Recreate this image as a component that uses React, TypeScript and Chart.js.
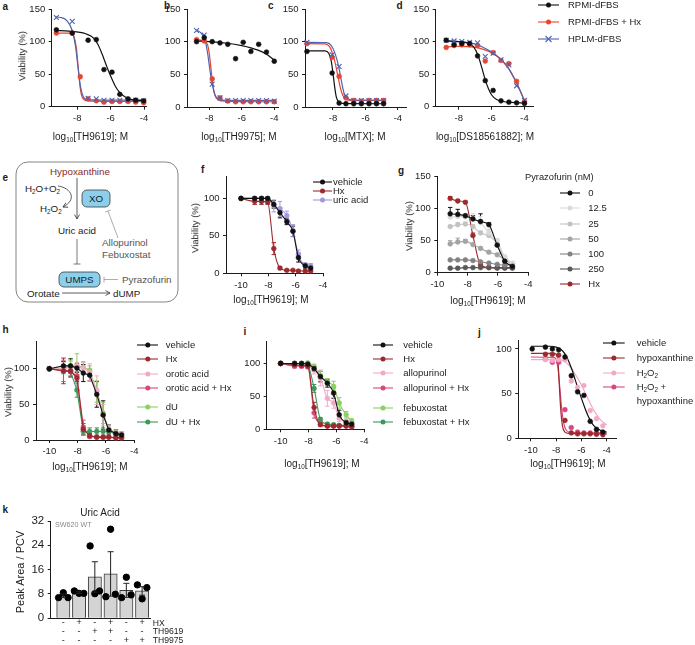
import React, { useEffect, useRef } from 'react';
import { Chart, registerables } from 'chart.js';

Chart.register(...registerables);

const FONT = '"Liberation Sans", Arial, Helvetica, sans-serif';
const INK = '#1c1c1c';

const BLACK = '#111111';
const RED = '#e8452f';
const BLUE = '#4f63b0';
const DARKRED = '#9c2a2c';
const LAVENDER = '#a398de';
const LPINK = '#f2a9c8';
const PINK = '#d9467f';
const LGREEN = '#8ccf62';
const GREEN = '#3c9a58';
const G_COLORS = ['#111111', '#dadada', '#c2c2c2', '#a3a3a3', '#838383', '#585858', '#9c2a2c'];

// ---------------- panel a ----------------
const A_X = [-9.25, -8.3, -7.82, -7.35, -6.86, -6.4, -5.92, -5.45, -4.96, -4.5, -4.02];
const A_RPMI = [118, 113, null, 102, 103, 57, 53, 19, 12, 10, 9];
const A_RPMI_HX = [113, 113, 46, 12, 9, 7, 8, 8, 8, 7, 6];
const A_HPLM = [137, 131, null, 13, 12, 10, 10, 10, 10, 10, 9];
const A_FIT_RPMI_X = [-9.3, -8.5, -7.5, -7, -6.75, -6.5, -6.25, -6, -5.75, -5.5, -5, -4.5, -4];
const A_FIT_RPMI_Y = [117, 116, 112, 105, 95, 80, 63, 47, 33, 23, 13, 10, 9.5];
const A_FIT_HX_X = [-9.3, -8.4, -8.2, -8.05, -7.95, -7.85, -7.75, -7.6, -7.4, -4];
const A_FIT_HX_Y = [113, 113, 108, 90, 62, 35, 18, 11, 9, 8];
const A_FIT_HPLM_X = [-9.3, -9, -8.7, -8.45, -8.25, -8.1, -7.95, -7.8, -7.65, -7.45, -4];
const A_FIT_HPLM_Y = [138, 137, 134, 126, 112, 92, 60, 30, 16, 11, 10];

// ---------------- panel b ----------------
const B_X = [-8.78, -8.31, -7.82, -7.34, -6.86, -6.38, -5.91, -5.44, -4.96, -4.48, -4.0];
const B_RPMI = [100, 106, 100, 98, 96, 74, 99, 85, 96, 84, 70];
const B_RPMI_HX = [103, 101, 43, 14, 9, 8, 8, 8, 8, 8, 8];
const B_HPLM = [117, 110, 35, 14, 10, 10, 10, 10, 10, 10, 9];
const B_FIT_RPMI_X = [-8.8, -8, -7, -6, -5, -4.5, -4];
const B_FIT_RPMI_Y = [101, 100, 98, 94, 87, 81, 72];
const B_FIT_HX_X = [-8.8, -8.3, -8.1, -8.0, -7.9, -7.8, -7.7, -7.55, -7.3, -4];
const B_FIT_HX_Y = [103, 101, 95, 82, 60, 38, 22, 13, 9.5, 8];
const B_FIT_HPLM_X = [-8.8, -8.5, -8.25, -8.1, -7.95, -7.8, -7.65, -7.5, -7.3, -4];
const B_FIT_HPLM_Y = [118, 113, 102, 82, 55, 33, 19, 13, 10.5, 10];

// ---------------- panel c ----------------
const C_X = [-9.6, -8.05, -7.62, -7.2, -6.72, -6.25, -5.78, -5.32, -4.88];
const C_RPMI = [85, 52, 6, 5, 5, 5, 5, 5, 5];
const C_RPMI_HX = [97, 76, 47, 14, 10, 9, 10, 10, 10];
const C_HPLM = [99, 80, 62, 17, 10, 10, 10, 10, 10];
const C_FIT_RPMI_X = [-9.6, -8.5, -8.25, -8.1, -8.0, -7.9, -7.8, -7.65, -7.4, -4.85];
const C_FIT_RPMI_Y = [86, 86, 82, 70, 52, 32, 16, 8, 5.5, 5];
const C_FIT_HX_X = [-9.6, -8.5, -8.2, -8.0, -7.85, -7.7, -7.55, -7.4, -7.2, -6.9, -4.85];
const C_FIT_HX_Y = [97, 96.5, 92, 80, 66, 48, 30, 18, 12, 10, 10];
const C_FIT_HPLM_X = [-9.6, -8.4, -8.1, -7.9, -7.75, -7.6, -7.45, -7.3, -7.1, -6.8, -4.85];
const C_FIT_HPLM_Y = [99, 98.5, 94, 84, 72, 56, 36, 20, 13, 10.5, 10];

// ---------------- panel d ----------------
const D_X = [-8.77, -8.29, -7.82, -7.34, -6.86, -6.39, -5.91, -5.43, -4.95, -4.48, -4.0];
const D_RPMI = [102, 95, 97, 97, 78, 40, 25, 9, 7, 6, 5];
const D_RPMI_HX = [91, 94, 95, 95, 94, 70, 83, 71, 66, 39, 8];
const D_HPLM = [102, 101, 100, 99, 98, 77, 82, 72, 64, 32, 10];
const D_FIT_RPMI_X = [-8.77, -8, -7.5, -7.1, -6.85, -6.6, -6.4, -6.2, -6, -5.7, -5.3, -4.8, -4];
const D_FIT_RPMI_Y = [101, 100, 98, 92, 80, 60, 42, 28, 18, 11, 8, 6.5, 5.5];
const D_FIT_HX_X = [-8.77, -8, -7, -6.5, -6, -5.5, -5, -4.6, -4.3, -4.1, -4];
const D_FIT_HX_Y = [92, 92.5, 91, 88, 83, 74, 60, 43, 27, 15, 9];
const D_FIT_HPLM_X = [-8.77, -8, -7, -6.5, -6, -5.5, -5, -4.6, -4.3, -4.1, -4];
const D_FIT_HPLM_Y = [101, 100, 96, 91, 84, 74, 60, 42, 26, 15, 10];

// ---------------- panels f, h, i (shared doses) ----------------
const FHI_X = [-10, -9, -8.5, -8.05, -7.6, -7.15, -6.65, -6.2, -5.8, -5.3, -4.9];

const F_VEH = [100, 100, 100, 100, 92, 81, 69, 56, 21, 10, 7];
const F_VEH_ERR = [0, 2, 2, 2, 5, 7, 4, 7, 6, 3, 3];
const F_HX = [100, 96, 96, 95, 33, 7, 4, 4, 3, 3, 3];
const F_HX_ERR = [0, 4, 4, 3, 8, 2, 1, 1, 1, 1, 1];
const F_URIC = [100, 100, 100, 100, 90, 86, 77, 57, 25, 11, 10];
const F_URIC_ERR = [0, 2, 2, 2, 8, 10, 6, 8, 6, 3, 3];

const H_VEH = [100, 104, 104, 101, 94, 91, 64, 35, 14, 9, 7];
const H_VEH_ERR = [0, 6, 10, 6, 12, 8, 18, 20, 7, 5, 4];
const H_HX = [100, 97, 97, 87, 15, 6, 4, 4, 4, 3, 3];
const H_HX_ERR = [0, 18, 8, 5, 8, 3, 1, 1, 1, 1, 1];
const H_ORO = [100, 100, 102, 104, 101, 95, 70, 35, 15, 10, 8];
const H_ORO_ERR = [0, 5, 8, 5, 8, 12, 20, 15, 5, 3, 2];
const H_ORO_HX = [100, 97, 96, 90, 18, 5, 4, 4, 4, 3, 3];
const H_ORO_HX_ERR = [0, 15, 8, 6, 10, 2, 1, 1, 1, 1, 1];
const H_DU = [100, 100, 104, 104, 102, 98, 68, 38, 15, 10, 8];
const H_DU_ERR = [0, 5, 8, 17, 8, 6, 15, 15, 5, 3, 2];
const H_DU_HX = [100, 98, 96, 70, 12, 12, 12, 12, 12, 8, 5];
const H_DU_HX_ERR = [0, 5, 6, 10, 5, 5, 5, 5, 3, 2, 2];

const I_VEH = [100, 100, 100, 99, 92, 80, 70, 55, 22, 10, 8];
const I_VEH_ERR = [0, 2, 2, 2, 4, 8, 6, 8, 7, 4, 3];
const I_HX = [100, 98, 97, 96, 33, 7, 5, 5, 5, 5, 4];
const I_HX_ERR = [0, 3, 3, 3, 8, 2, 1, 1, 1, 1, 1];
const I_ALLO = [100, 100, 100, 98, 90, 78, 47, 40, 17, 12, 8];
const I_ALLO_ERR = [0, 2, 2, 3, 6, 12, 12, 8, 5, 3, 2];
const I_ALLO_HX = [100, 96, 96, 95, 25, 8, 5, 5, 5, 5, 4];
const I_ALLO_HX_ERR = [0, 3, 3, 3, 8, 2, 1, 1, 1, 1, 1];
const I_FEB = [100, 100, 100, 101, 95, 82, 72, 65, 40, 22, 12];
const I_FEB_ERR = [0, 2, 2, 2, 4, 6, 5, 8, 8, 5, 4];
const I_FEB_HX = [100, 97, 97, 96, 62, 15, 8, 7, 6, 6, 5];
const I_FEB_HX_ERR = [0, 3, 3, 3, 6, 3, 2, 1, 1, 1, 1];

// ---------------- panel g ----------------
const G_X = [-9.15, -8.65, -8.15, -7.65, -7.15, -6.6, -6.05, -5.55, -5.05];
const G_LABELS = ['0', '12.5', '25', '50', '100', '250', 'Hx'];
const G_P0 = [92, 91, 89, 84, 80, 75, 43, 18, 10];
const G_P0_ERR = [10, 8, 0, 5, 12, 3, 3, 2, 3];
const G_P12 = [87, 88, 87, 84, 78, 62, 50, 25, 15];
const G_P12_ERR = [0, 5, 5, 8, 10, 3, 3, 2, 2];
const G_P25 = [72, 75, 76, 72, 62, 58, 45, 22, 14];
const G_P25_ERR = [2, 3, 3, 3, 3, 10, 5, 2, 2];
const G_P50 = [45, 48, 49, 44, 38, 32, 28, 20, 14];
const G_P50_ERR = [5, 6, 3, 2, 2, 2, 2, 2, 2];
const G_P100 = [20, 20, 20, 19, 17, 15, 13, 12, 12];
const G_P250 = [7, 7, 8, 8, 8, 8, 7, 7, 7];
const G_HX = [116, 112, 110, 58, 12, 8, 8, 8, 8];
const G_HX_ERR = [3, 2, 2, 4, 2, 1, 1, 1, 1];

// ---------------- panel j ----------------
const J_X = [-9.9, -8.85, -8.3, -7.8, -7.3, -6.8, -6.3, -5.8, -5.3, -4.8, -4.3];
const J_VEH = [100, 102, 100, 99, 91, 70, 52, 48, 19, 10, 7];
const J_HX = [null, 94, 94, 93, 20, 6, 5, 5, 5, 4.5, 4];
const J_H2O2 = [null, 88, 87, 88, 88, 64, 57, 59, 31, 22, 14];
const J_H2O2_HX = [null, 89, 85, 85, 32, 12, 7, 6, 6, 6, 6];
const J_FIT_VEH_X = [-10, -8.5, -8, -7.5, -7.2, -7, -6.75, -6.5, -6.25, -6, -5.75, -5.5, -5.25, -5, -4.5, -4];
const J_FIT_VEH_Y = [103, 103, 102, 98, 92, 86, 77, 66, 55, 45, 35, 26, 19, 14, 9, 7];
const J_FIT_HX_X = [-10, -8.2, -8.0, -7.85, -7.75, -7.65, -7.5, -7.3, -7.0, -4];
const J_FIT_HX_Y = [95, 95, 94, 85, 60, 35, 14, 7, 5.5, 5];
const J_FIT_H2O2_X = [-10, -8, -7.5, -7, -6.5, -6, -5.5, -5, -4.5, -4];
const J_FIT_H2O2_Y = [88, 88, 87, 82, 72, 60, 45, 31, 21, 15];
const J_FIT_H2O2_HX_X = [-10, -8.2, -8.0, -7.85, -7.7, -7.55, -7.4, -7.2, -6.8, -4];
const J_FIT_H2O2_HX_Y = [91, 90.5, 88, 78, 55, 32, 17, 9, 6.5, 6];

// ---------------- panel k ----------------
const K_MEANS = [7.4, 8.4, 13.6, 14.6, 9.2, 9.0];
const K_SEM = [0.6, 0.3, 5.0, 7.3, 2.3, 1.4];
const K_REP1 = [6.8, 9.0, 23.8, 7.1, 6.8, 11.0];
const K_REP2 = [8.4, 8.2, 8.1, 29.3, 13.5, 6.4];
const K_REP3 = [6.8, 8.2, 9.0, 7.9, 7.7, 10.1];
const K_JITTER = [-0.3, 0, 0.3];
const K_HX = ['-', '+', '-', '+', '-', '+'];
const K_TH9619 = ['-', '-', '+', '+', '-', '-'];
const K_TH9975 = ['-', '-', '-', '-', '+', '+'];
const K_ROWS = ['HX', 'TH9619', 'TH9975'];

// ======================================================
const YW = 30;
const XH = 22;

const errorBars: any = {
  id: 'errorBars',
  beforeDatasetsDraw(chart: any, _a: any, opts: any) {
    if (!opts.after) drawErrors(chart, opts);
  },
  afterDatasetsDraw(chart: any, _a: any, opts: any) {
    if (opts.after) drawErrors(chart, opts);
  },
};

function drawErrors(chart: any, opts: any) {
  const ctx = chart.ctx;
  const ys = chart.scales.y;
  const cap = opts.cap ?? 2.2;
  chart.data.datasets.forEach((ds: any, i: number) => {
    if (!ds.errors) return;
    const meta = chart.getDatasetMeta(i);
    ctx.save();
    ctx.strokeStyle = ds.errColor ?? ds.borderColor;
    ctx.lineWidth = 1;
    meta.data.forEach((el: any, j: number) => {
      const e = ds.errors[j];
      const d = ds.data[j];
      if (!e || !d || d.y == null) return;
      const yTop = ys.getPixelForValue(d.y + e);
      const yBot = opts.mode === 'both' ? ys.getPixelForValue(d.y - e) : el.y;
      ctx.beginPath();
      ctx.moveTo(el.x, yTop);
      ctx.lineTo(el.x, yBot);
      ctx.moveTo(el.x - cap, yTop);
      ctx.lineTo(el.x + cap, yTop);
      if (opts.mode === 'both') {
        ctx.moveTo(el.x - cap, yBot);
        ctx.lineTo(el.x + cap, yBot);
      }
      ctx.stroke();
    });
    ctx.restore();
  });
}

type S = {
  xs: number[];
  ys: (number | null)[];
  color: string;
  cross?: boolean;
  line?: 'none' | 'straight' | 'smooth';
  errs?: number[];
};

type PanelDef = {
  area: number[];
  xMin: number;
  xMax: number;
  xTicks: number[];
  yMax: number;
  yTicks: number[];
  series: S[];
  fits?: S[];
  err?: 'up' | 'both';
};

const toData = (xs: number[], ys: (number | null)[]) => xs.map((x, i) => ({ x, y: ys[i] }));

function seriesDS(s: S) {
  const line = s.line ?? 'none';
  return {
    data: toData(s.xs, s.ys),
    showLine: line !== 'none',
    borderColor: s.color,
    backgroundColor: s.color,
    borderWidth: 1.1,
    tension: 0,
    cubicInterpolationMode: line === 'smooth' ? 'monotone' : 'default',
    pointStyle: s.cross ? 'crossRot' : 'circle',
    pointRadius: s.cross ? 3.4 : 2.4,
    pointBorderWidth: s.cross ? 1.1 : 0.6,
    pointBorderColor: s.color,
    pointBackgroundColor: s.color,
    errors: s.errs,
    clip: false,
  };
}

function fitDS(s: S) {
  return {
    data: toData(s.xs, s.ys),
    showLine: true,
    borderColor: s.color,
    borderWidth: 1.2,
    pointRadius: 0,
    cubicInterpolationMode: 'monotone',
    clip: false,
  };
}

function scale(axis: 'x' | 'y', min: number, max: number, ticks: number[], size = 9.5) {
  return {
    type: 'linear',
    min,
    max,
    afterBuildTicks: (s: any) => {
      s.ticks = ticks.map((v) => ({ value: v }));
    },
    afterFit: (s: any) => {
      if (axis === 'x') {
        s.height = XH;
        s.paddingLeft = 0;
        s.paddingRight = 0;
      } else {
        s.width = YW;
        s.paddingTop = 0;
        s.paddingBottom = 0;
      }
    },
    grid: { display: true, drawOnChartArea: false, drawTicks: true, tickLength: 3, color: INK, lineWidth: 1 },
    border: { display: true, color: INK, width: 1 },
    ticks: {
      color: INK,
      font: { family: FONT, size },
      padding: axis === 'x' ? 3 : 3.5,
      maxRotation: 0,
      minRotation: 0,
      autoSkip: false,
      callback: (v: any) => String(v),
    },
  };
}

function rectFor(area: number[], xh = XH) {
  const [x0, y0, x1, y1] = area;
  const left = Math.floor(x0 - YW - 4);
  const top = Math.max(0, Math.floor(y0 - 8));
  const width = Math.ceil(x1 + 10) - left;
  const height = Math.ceil(y1 + xh + 3) - top;
  const padding = { left: x0 - left - YW, right: left + width - x1, top: y0 - top, bottom: top + height - y1 - xh };
  return { left, top, width, height, padding };
}

function DoseChart({ p }: { p: PanelDef }) {
  const ref = useRef<HTMLCanvasElement | null>(null);
  const r = rectFor(p.area);
  useEffect(() => {
    const datasets = [...p.series.map(seriesDS), ...(p.fits ?? []).map(fitDS)];
    const chart = new Chart(ref.current as HTMLCanvasElement, {
      type: 'line',
      data: { datasets } as any,
      options: {
        responsive: false,
        animation: false,
        devicePixelRatio: 1,
        events: [],
        layout: { padding: r.padding },
        plugins: {
          legend: { display: false },
          tooltip: { enabled: false },
          errorBars: { mode: p.err ?? 'both', cap: 2.2 },
        },
        scales: {
          x: scale('x', p.xMin, p.xMax, p.xTicks),
          y: scale('y', 0, p.yMax, p.yTicks),
        },
      } as any,
      plugins: [errorBars],
    });
    return () => chart.destroy();
  }, []);
  return (
    <canvas
      ref={ref}
      width={r.width}
      height={r.height}
      style={{ position: 'absolute', left: r.left, top: r.top, width: r.width, height: r.height }}
    />
  );
}

const K_AREA = [50.7, 521, 150, 618.3];
const K_XH = 28;

function UricChart() {
  const ref = useRef<HTMLCanvasElement | null>(null);
  const r = rectFor(K_AREA, K_XH);
  useEffect(() => {
    const reps = [K_REP1, K_REP2, K_REP3];
    const dots = reps.flatMap((rep, k) => rep.map((v, i) => ({ x: i + K_JITTER[k], y: v })));
    const yS: any = scale('y', 0, 32, [0, 8, 16, 24, 32], 11.5);
    const xS: any = {
      type: 'linear',
      min: -0.8,
      max: 5.5,
      offset: false,
      afterBuildTicks: (s: any) => {
        s.ticks = K_MEANS.map((_, i) => ({ value: i }));
      },
      afterFit: (s: any) => {
        s.height = K_XH;
        s.paddingLeft = 0;
        s.paddingRight = 0;
      },
      grid: { display: false, drawTicks: false, offset: false },
      border: { display: true, color: INK, width: 1 },
      ticks: {
        color: INK,
        font: { family: FONT, size: 9, lineHeight: 0.97 },
        padding: 0,
        maxRotation: 0,
        autoSkip: false,
        callback: (v: any) => [K_HX[v], K_TH9619[v], K_TH9975[v]],
      },
    };
    const chart = new Chart(ref.current as HTMLCanvasElement, {
      type: 'bar',
      data: {
        datasets: [
          {
            type: 'scatter',
            data: dots,
            pointRadius: 3.2,
            pointBackgroundColor: '#000',
            pointBorderColor: '#000',
            order: 1,
            clip: false,
          },
          {
            type: 'bar',
            data: K_MEANS.map((m, i) => ({ x: i, y: m })),
            backgroundColor: '#d4d4d4',
            borderColor: '#3a3a3a',
            borderWidth: 1,
            barThickness: 13.3,
            errors: K_SEM,
            errColor: '#222',
            order: 2,
          },
        ],
      } as any,
      options: {
        responsive: false,
        animation: false,
        devicePixelRatio: 1,
        events: [],
        layout: { padding: r.padding },
        plugins: {
          legend: { display: false },
          tooltip: { enabled: false },
          errorBars: { mode: 'both', cap: 3, after: true },
        },
        scales: { x: xS, y: yS },
      } as any,
      plugins: [errorBars],
    });
    return () => chart.destroy();
  }, []);
  return (
    <canvas
      ref={ref}
      width={r.width}
      height={r.height}
      style={{ position: 'absolute', left: r.left, top: r.top, width: r.width, height: r.height }}
    />
  );
}

// ---------------- panel definitions ----------------
const PANEL_A: PanelDef = {
  area: [51.7, 9, 146.7, 106.7], xMin: -9.53, xMax: -3.84, xTicks: [-8, -6, -4], yMax: 150, yTicks: [0, 50, 100, 150],
  series: [
    { xs: A_X, ys: A_RPMI, color: BLACK },
    { xs: A_X, ys: A_HPLM, color: BLUE, cross: true },
    { xs: A_X, ys: A_RPMI_HX, color: RED },
  ],
  fits: [
    { xs: A_FIT_RPMI_X, ys: A_FIT_RPMI_Y, color: BLACK },
    { xs: A_FIT_HPLM_X, ys: A_FIT_HPLM_Y, color: BLUE },
    { xs: A_FIT_HX_X, ys: A_FIT_HX_Y, color: RED },
  ],
};
const PANEL_B: PanelDef = {
  area: [187, 9, 278, 107], xMin: -9.37, xMax: -3.77, xTicks: [-8, -6, -4], yMax: 150, yTicks: [0, 50, 100, 150],
  series: [
    { xs: B_X, ys: B_RPMI, color: BLACK },
    { xs: B_X, ys: B_HPLM, color: BLUE, cross: true },
    { xs: B_X, ys: B_RPMI_HX, color: RED },
  ],
  fits: [
    { xs: B_FIT_RPMI_X, ys: B_FIT_RPMI_Y, color: BLACK },
    { xs: B_FIT_HPLM_X, ys: B_FIT_HPLM_Y, color: BLUE },
    { xs: B_FIT_HX_X, ys: B_FIT_HX_Y, color: RED },
  ],
};
const PANEL_C: PanelDef = {
  area: [305, 9, 406.7, 107], xMin: -9.72, xMax: -3.46, xTicks: [-8, -6, -4], yMax: 150, yTicks: [0, 50, 100, 150],
  series: [
    { xs: C_X, ys: C_RPMI, color: BLACK },
    { xs: C_X, ys: C_HPLM, color: BLUE, cross: true },
    { xs: C_X, ys: C_RPMI_HX, color: RED },
  ],
  fits: [
    { xs: C_FIT_RPMI_X, ys: C_FIT_RPMI_Y, color: BLACK },
    { xs: C_FIT_HPLM_X, ys: C_FIT_HPLM_Y, color: BLUE },
    { xs: C_FIT_HX_X, ys: C_FIT_HX_Y, color: RED },
  ],
};
const PANEL_D: PanelDef = {
  area: [435.7, 9, 533, 106.7], xMin: -9.41, xMax: -3.48, xTicks: [-8, -6, -4], yMax: 150, yTicks: [0, 50, 100, 150],
  series: [
    { xs: D_X, ys: D_RPMI, color: BLACK },
    { xs: D_X, ys: D_HPLM, color: BLUE, cross: true },
    { xs: D_X, ys: D_RPMI_HX, color: RED },
  ],
  fits: [
    { xs: D_FIT_RPMI_X, ys: D_FIT_RPMI_Y, color: BLACK },
    { xs: D_FIT_HPLM_X, ys: D_FIT_HPLM_Y, color: BLUE },
    { xs: D_FIT_HX_X, ys: D_FIT_HX_Y, color: RED },
  ],
};
const PANEL_F: PanelDef = {
  area: [226, 176.7, 323, 273.3], xMin: -11.1, xMax: -4, xTicks: [-10, -8, -6, -4], yMax: 129, yTicks: [0, 50, 100],
  series: [
    { xs: FHI_X, ys: F_VEH, color: BLACK, line: 'smooth', errs: F_VEH_ERR },
    { xs: FHI_X, ys: F_HX, color: DARKRED, line: 'smooth', errs: F_HX_ERR },
    { xs: FHI_X, ys: F_URIC, color: LAVENDER, line: 'smooth', errs: F_URIC_ERR },
  ],
};
const G_SERIES = [G_P0, G_P12, G_P25, G_P50, G_P100, G_P250, G_HX];
const G_ERRS = [G_P0_ERR, G_P12_ERR, G_P25_ERR, G_P50_ERR, undefined, undefined, G_HX_ERR];
const PANEL_G: PanelDef = {
  area: [437.3, 176.7, 528.3, 272.7], xMin: -10, xMax: -4, xTicks: [-10, -8, -6, -4], yMax: 150, yTicks: [0, 50, 100, 150],
  err: 'up',
  series: G_SERIES.map((ys, i) => ({ xs: G_X, ys, color: G_COLORS[i], line: 'smooth' as const, errs: G_ERRS[i] })),
};
const PANEL_H: PanelDef = {
  area: [36, 341.7, 134.3, 440], xMin: -10.94, xMax: -4, xTicks: [-10, -8, -6, -4], yMax: 138, yTicks: [0, 50, 100],
  series: [
    { xs: FHI_X, ys: H_VEH, color: BLACK, line: 'straight', errs: H_VEH_ERR },
    { xs: FHI_X, ys: H_HX, color: DARKRED, line: 'straight', errs: H_HX_ERR },
    { xs: FHI_X, ys: H_ORO, color: LPINK, line: 'straight', errs: H_ORO_ERR },
    { xs: FHI_X, ys: H_ORO_HX, color: PINK, line: 'straight', errs: H_ORO_HX_ERR },
    { xs: FHI_X, ys: H_DU, color: LGREEN, line: 'straight', errs: H_DU_ERR },
    { xs: FHI_X, ys: H_DU_HX, color: GREEN, line: 'straight', errs: H_DU_HX_ERR },
  ],
};
const PANEL_I: PanelDef = {
  area: [266.7, 341.7, 364.3, 429.3], xMin: -11, xMax: -4, xTicks: [-10, -8, -6, -4], yMax: 133, yTicks: [0, 50, 100],
  series: [
    { xs: FHI_X, ys: I_VEH, color: BLACK, line: 'smooth', errs: I_VEH_ERR },
    { xs: FHI_X, ys: I_HX, color: DARKRED, line: 'smooth', errs: I_HX_ERR },
    { xs: FHI_X, ys: I_ALLO, color: LPINK, line: 'smooth', errs: I_ALLO_ERR },
    { xs: FHI_X, ys: I_ALLO_HX, color: PINK, line: 'smooth', errs: I_ALLO_HX_ERR },
    { xs: FHI_X, ys: I_FEB, color: LGREEN, line: 'smooth', errs: I_FEB_ERR },
    { xs: FHI_X, ys: I_FEB_HX, color: GREEN, line: 'smooth', errs: I_FEB_HX_ERR },
  ],
};
const PANEL_J: PanelDef = {
  area: [518.3, 340, 616.7, 438.3], xMin: -11, xMax: -3.2, xTicks: [-10, -8, -6, -4], yMax: 110, yTicks: [0, 50, 100],
  series: [
    { xs: J_X, ys: J_VEH, color: BLACK },
    { xs: J_X, ys: J_HX, color: DARKRED },
    { xs: J_X, ys: J_H2O2, color: LPINK },
    { xs: J_X, ys: J_H2O2_HX, color: PINK },
  ],
  fits: [
    { xs: J_FIT_VEH_X, ys: J_FIT_VEH_Y, color: BLACK },
    { xs: J_FIT_HX_X, ys: J_FIT_HX_Y, color: DARKRED },
    { xs: J_FIT_H2O2_X, ys: J_FIT_H2O2_Y, color: LPINK },
    { xs: J_FIT_H2O2_HX_X, ys: J_FIT_H2O2_HX_Y, color: PINK },
  ],
};

// ---------------- text helpers ----------------
function T(props: any) {
  const { x, y, s = 9.5, a = 'l', c = INK, b = false, rot = false, children } = props;
  const tx = a === 'c' ? '-50%' : a === 'r' ? '-100%' : '0';
  const style: any = {
    position: 'absolute',
    left: x,
    top: y,
    fontSize: s,
    color: c,
    fontWeight: b ? 700 : 400,
    whiteSpace: 'nowrap',
    lineHeight: 1,
    fontFamily: FONT,
    transform: rot ? 'translate(-50%,-50%) rotate(-90deg)' : `translate(${tx},-50%)`,
  };
  return <div style={style}>{children}</div>;
}

const Sub = ({ children, s = 6.3 }: any) => (
  <span style={{ fontSize: s, verticalAlign: '-2px', lineHeight: 0 }}>{children}</span>
);

function XTitle({ x, y, drug }: any) {
  return (
    <T x={x} y={y} s={10} a="c">
      log<Sub>10</Sub>[{drug}]; M
    </T>
  );
}

function LegendRow({ x0, len, y, color, cross, tx, children }: any) {
  const m = len / 2;
  return (
    <>
      <svg style={{ position: 'absolute', left: x0, top: y - 5 }} width={len} height={10}>
        <line x1={0} y1={5} x2={len} y2={5} stroke={color} strokeWidth={1.1} />
        {cross ? (
          <path d={`M${m - 3} 2 L${m + 3} 8 M${m - 3} 8 L${m + 3} 2`} stroke={color} strokeWidth={1.1} fill="none" />
        ) : (
          <circle cx={m} cy={5} r={2.5} fill={color} />
        )}
      </svg>
      <T x={tx} y={y}>
        {children}
      </T>
    </>
  );
}

function PathwayE() {
  const st = { fontFamily: FONT, fontSize: 9.8 } as any;
  return (
    <svg style={{ position: 'absolute', left: 0, top: 155 }} width={190} height={155} viewBox="0 155 190 155">
      <defs>
        <marker id="ah" markerWidth="6" markerHeight="6" refX="5" refY="3" orient="auto" markerUnits="userSpaceOnUse">
          <path d="M0.5,0.5 L5,3 L0.5,5.5" fill="none" stroke="#333" strokeWidth="0.8" />
        </marker>
      </defs>
      <rect x={16} y={162} width={162} height={140} rx={12} fill="none" stroke="#666" strokeWidth={0.8} />
      <text x={80} y={174.5} textAnchor="middle" fill="#8b2a2a" style={st}>Hypoxanthine</text>
      <line x1={77} y1={178} x2={77} y2={219} stroke="#333" strokeWidth={0.8} markerEnd="url(#ah)" />
      <text x={25} y={191.5} fill={INK} style={st}>
        H<tspan fontSize={6.3} dy={2}>2</tspan><tspan dy={-2}>O+O</tspan><tspan fontSize={6.3} dy={2}>2</tspan>
      </text>
      <path d="M58 186 C72 188, 77 200, 63 207" fill="none" stroke="#333" strokeWidth={0.8} markerEnd="url(#ah)" />
      <text x={40} y={211.5} fill={INK} style={st}>
        H<tspan fontSize={6.3} dy={2}>2</tspan><tspan dy={-2}>O</tspan><tspan fontSize={6.3} dy={2}>2</tspan>
      </text>
      <rect x={82} y={190} width={28} height={17} rx={5} fill="#8ccfeb" stroke="#3a3a3a" strokeWidth={0.8} />
      <text x={96} y={202} textAnchor="middle" fill={INK} style={st}>XO</text>
      <text x={77} y={233.5} textAnchor="middle" fill={INK} style={st}>Uric acid</text>
      <line x1={77} y1={239} x2={77} y2={264} stroke="#555" strokeWidth={0.8} />
      <line x1={73.5} y1={264} x2={80.5} y2={264} stroke="#555" strokeWidth={0.8} />
      <line x1={118} y1={238} x2={108} y2={211} stroke="#999" strokeWidth={0.8} />
      <line x1={105.2} y1={212} x2={110.8} y2={210} stroke="#999" strokeWidth={0.8} />
      <text x={102} y={246} fill="#555" style={st}>Allopurinol</text>
      <text x={102} y={258} fill="#555" style={st}>Febuxostat</text>
      <rect x={59} y={272} width={41} height={15} rx={5} fill="#8ccfeb" stroke="#3a3a3a" strokeWidth={0.8} />
      <text x={79.5} y={283.3} textAnchor="middle" fill={INK} style={st}>UMPS</text>
      <line x1={104} y1={279.5} x2={118} y2={279.5} stroke="#999" strokeWidth={0.8} />
      <line x1={104} y1={276.5} x2={104} y2={282.5} stroke="#999" strokeWidth={0.8} />
      <text x={122} y={283.3} fill="#555" style={st}>Pyrazofurin</text>
      <text x={27} y={296.5} fill={INK} style={st}>Orotate</text>
      <line x1={62} y1={293} x2={110} y2={293} stroke="#333" strokeWidth={0.8} markerEnd="url(#ah)" />
      <text x={113} y={296.5} fill={INK} style={st}>dUMP</text>
    </svg>
  );
}

export default function App() {
  const legAD = { x0: 538, len: 21, tx: 568 };
  const legF = { x0: 313, len: 19, tx: 333 };
  const legG = { x0: 560, len: 20, tx: 588.3 };
  const legH = { x0: 136.7, len: 21.6, tx: 165.7 };
  const legI = { x0: 373.3, len: 20, tx: 403.3 };
  const legJ = { x0: 603.3, len: 21.7, tx: 636.7 };
  const gRows = [193.3, 208.3, 224.3, 239, 254, 269, 284];
  const hRows = [345, 359.3, 374, 388.3, 406.7, 422.3];
  const iRows = [345, 359, 373.3, 387.7, 407.7, 422.3];
  return (
    <div
      style={{
        position: 'fixed',
        left: 0,
        top: 0,
        width: 695,
        height: 645,
        background: '#fff',
        overflow: 'hidden',
        fontFamily: FONT,
      }}
    >
      {/* panel labels */}
      <T x={2.5} y={6.5} b s={10}>a</T>
      <T x={164} y={6} b s={10}>b</T>
      <T x={268} y={6} b s={10}>c</T>
      <T x={396.5} y={5.5} b s={10}>d</T>
      <T x={2.5} y={178} b s={10}>e</T>
      <T x={201} y={170} b s={10}>f</T>
      <T x={398} y={171} b s={10}>g</T>
      <T x={2.5} y={330} b s={10}>h</T>
      <T x={243.5} y={332} b s={10}>i</T>
      <T x={478} y={333} b s={10}>j</T>
      <T x={2.5} y={510} b s={10}>k</T>

      {/* row 1 */}
      <DoseChart p={PANEL_A} />
      <DoseChart p={PANEL_B} />
      <DoseChart p={PANEL_C} />
      <DoseChart p={PANEL_D} />
      <T x={22} y={56} s={9.5} rot>Viability (%)</T>
      <XTitle x={90.5} y={136.7} drug="TH9619" />
      <XTitle x={239} y={136.7} drug="TH9975" />
      <XTitle x={355} y={136.7} drug="MTX" />
      <XTitle x={485} y={136.7} drug="DS18561882" />
      <LegendRow {...legAD} y={5} color={BLACK}>RPMI-dFBS</LegendRow>
      <LegendRow {...legAD} y={22} color={RED}>RPMI-dFBS + Hx</LegendRow>
      <LegendRow {...legAD} y={39} color={BLUE} cross>HPLM-dFBS</LegendRow>

      {/* row 2 */}
      <PathwayE />
      <DoseChart p={PANEL_F} />
      <T x={195} y={228} s={9.5} rot>Viability (%)</T>
      <XTitle x={271} y={300} drug="TH9619" />
      <LegendRow {...legF} y={181.7} color={BLACK}>vehicle</LegendRow>
      <LegendRow {...legF} y={191} color={DARKRED}>Hx</LegendRow>
      <LegendRow {...legF} y={200} color={LAVENDER}>uric acid</LegendRow>

      <DoseChart p={PANEL_G} />
      <T x={409} y={226} s={9.5} rot>Viability (%)</T>
      <XTitle x={488} y={300.5} drug="TH9619" />
      <T x={525} y={178.3} s={9.3}>Pyrazofurin (nM)</T>
      {G_LABELS.map((lab, i) => (
        <LegendRow key={lab} {...legG} y={gRows[i]} color={G_COLORS[i]}>
          {lab}
        </LegendRow>
      ))}

      {/* row 3 */}
      <DoseChart p={PANEL_H} />
      <T x={8} y={392} s={9.5} rot>Viability (%)</T>
      <XTitle x={90} y={466.7} drug="TH9619" />
      <LegendRow {...legH} y={hRows[0]} color={BLACK}>vehicle</LegendRow>
      <LegendRow {...legH} y={hRows[1]} color={DARKRED}>Hx</LegendRow>
      <LegendRow {...legH} y={hRows[2]} color={LPINK}>orotic acid</LegendRow>
      <LegendRow {...legH} y={hRows[3]} color={PINK}>orotic acid + Hx</LegendRow>
      <LegendRow {...legH} y={hRows[4]} color={LGREEN}>dU</LegendRow>
      <LegendRow {...legH} y={hRows[5]} color={GREEN}>dU + Hx</LegendRow>

      <DoseChart p={PANEL_I} />
      <XTitle x={322} y={464} drug="TH9619" />
      <LegendRow {...legI} y={iRows[0]} color={BLACK}>vehicle</LegendRow>
      <LegendRow {...legI} y={iRows[1]} color={DARKRED}>Hx</LegendRow>
      <LegendRow {...legI} y={iRows[2]} color={LPINK}>allopurinol</LegendRow>
      <LegendRow {...legI} y={iRows[3]} color={PINK}>allopurinol + Hx</LegendRow>
      <LegendRow {...legI} y={iRows[4]} color={LGREEN}>febuxostat</LegendRow>
      <LegendRow {...legI} y={iRows[5]} color={GREEN}>febuxostat + Hx</LegendRow>

      <DoseChart p={PANEL_J} />
      <XTitle x={568} y={464} drug="TH9619" />
      <LegendRow {...legJ} y={343.3} color={BLACK}>vehicle</LegendRow>
      <LegendRow {...legJ} y={357.7} color={DARKRED}>hypoxanthine</LegendRow>
      <LegendRow {...legJ} y={372.7} color={LPINK}>
        H<Sub>2</Sub>O<Sub>2</Sub>
      </LegendRow>
      <LegendRow {...legJ} y={386.7} color={PINK}>
        H<Sub>2</Sub>O<Sub>2</Sub> +
      </LegendRow>
      <T x={636.7} y={400.7}>hypoxanthine</T>

      {/* row 4 */}
      <UricChart />
      <T x={100} y={513.3} s={10} a="c">Uric Acid</T>
      <T x={55} y={524.5} s={7.2} c="#8a8a8a">SW620 WT</T>
      <T x={20} y={572} s={11} rot>Peak Area / PCV</T>
      {K_ROWS.map((row, i) => (
        <T key={row} x={152.7} y={622.7 + i * 8.7} s={8.6}>
          {row}
        </T>
      ))}
    </div>
  );
}
